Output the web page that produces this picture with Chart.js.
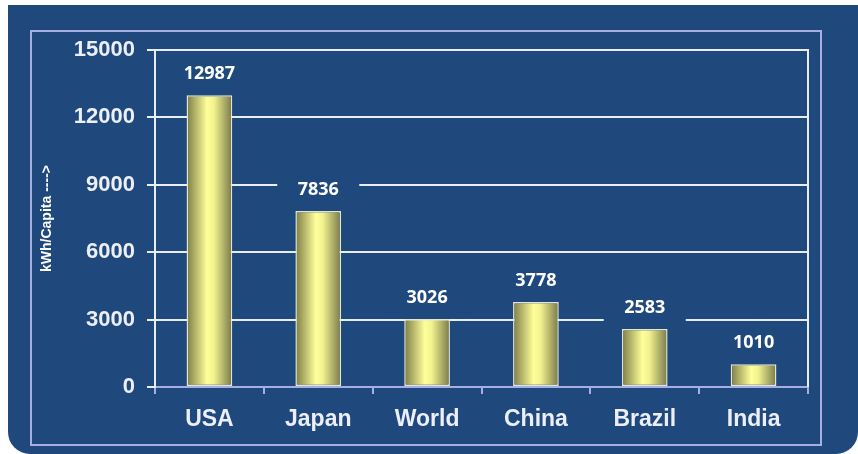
<!DOCTYPE html>
<html>
<head>
<meta charset="utf-8">
<script src="https://cdn.jsdelivr.net/npm/chart.js@4/dist/chart.umd.min.js"></script>
<style>
  html, body { margin: 0; padding: 0; background: #fff; }
  #panel {
    position: absolute; left: 8px; top: 5px; width: 850px; height: 449px;
    background: #1f497d; border-radius: 0 0 22px 22px;
  }
  #frame {
    position: absolute; left: 30px; top: 30px; width: 788px; height: 412px;
    border: 2px solid #a7aee3;
  }
  #wrap { position: absolute; left: 0; top: 0; width: 858px; height: 454px; }
</style>
</head>
<body>
<div id="panel"></div>
<div id="frame"></div>
<div id="wrap"><canvas id="myChart" width="858" height="454"></canvas></div>
<script>
var PANEL = "#1f497d";
var categories = ["USA", "Japan", "World", "China", "Brazil", "India"];
var values = [12987, 7836, 3026, 3778, 2583, 1010];
var yTicks = [0, 3000, 6000, 9000, 12000, 15000];
var BAR_PCT = 0.42;

// olive -> pale yellow -> olive, across each bar
function barFill(c) {
  var chart = c.chart;
  var area = chart.chartArea;
  if (!area || c.type !== "data") return "#f6f690";
  var cx = chart.scales.x.getPixelForValue(c.dataIndex);
  var half = (area.width / categories.length) * BAR_PCT / 2;
  var g = chart.ctx.createLinearGradient(cx - half, 0, cx + half, 0);
  g.addColorStop(0, "#7c7c45");
  g.addColorStop(0.45, "#ffff9a");
  g.addColorStop(0.6, "#f2f28e");
  g.addColorStop(1, "#78784a");
  return g;
}

// white border on the right side of the plot
var rightEdge = {
  id: "rightEdge",
  beforeDatasetsDraw: function (chart) {
    var a = chart.chartArea, ctx = chart.ctx;
    ctx.save();
    ctx.strokeStyle = "#e9edf5";
    ctx.lineWidth = 2;
    ctx.beginPath();
    ctx.moveTo(a.right, a.top - 1);
    ctx.lineTo(a.right, a.bottom);
    ctx.stroke();
    ctx.restore();
  }
};

// value above each bar, on a box of panel colour that hides the grid
var valueLabels = {
  id: "valueLabels",
  afterDatasetsDraw: function (chart) {
    var ctx = chart.ctx;
    var meta = chart.getDatasetMeta(0);
    ctx.save();
    ctx.font = "700 18px 'Open Sans'";
    ctx.textAlign = "center";
    ctx.textBaseline = "middle";
    meta.data.forEach(function (bar, i) {
      var y = bar.y - 21;
      ctx.fillStyle = PANEL;
      ctx.fillRect(bar.x - 41, y - 13, 82, 27);
      ctx.fillStyle = "#ffffff";
      ctx.fillText(String(values[i]), bar.x, y);
    });
    ctx.restore();
  }
};

document.addEventListener("DOMContentLoaded", function () {
  var ctx = document.getElementById("myChart").getContext("2d");

  var data = {
    labels: categories,
    datasets: [
      {
        data: values,
        backgroundColor: barFill,
        borderColor: "#e6e6cf",
        borderWidth: 1.5,
        borderSkipped: false,
        barPercentage: BAR_PCT,
        categoryPercentage: 1,
      },
    ],
  };

  var options = {
    responsive: false,
    animation: false,
    maintainAspectRatio: false,
    layout: { padding: { left: 35, top: 50, right: 50, bottom: 0 } },
    plugins: { legend: { display: false }, tooltip: { enabled: false } },
    scales: {
      x: {
        afterFit: function (s) { s.height = 67; },
        grid: {
          offset: true,
          drawOnChartArea: false,
          tickLength: 7,
          color: "#a7aee3",
          lineWidth: 2,
        },
        border: { color: "#a7aee3", width: 2 },
        ticks: {
          padding: 12,
          color: "#eceef8",
          font: { family: "'Liberation Sans', Arial", size: 23, weight: "bold" },
        },
      },
      y: {
        min: 0,
        max: 15000,
        afterFit: function (s) { s.width = 120; },
        afterBuildTicks: function (s) {
          s.ticks = yTicks.map(function (v) { return { value: v }; });
        },
        grid: { color: "#e9edf5", lineWidth: 2, tickLength: 8 },
        border: { color: "#e9edf5", width: 2 },
        ticks: {
          padding: 12,
          color: "#eceef8",
          font: { family: "'Liberation Sans', Arial", size: 22, weight: "bold" },
          callback: function (v) { return String(v); },
        },
        title: {
          display: true,
          text: "kWh/Capita ---->",
          color: "#ffffff",
          padding: 4,
          font: { family: "'Liberation Sans', Arial", size: 14, weight: "bold" },
        },
      },
    },
  };

  new Chart(ctx, {
    type: "bar",
    data: data,
    options: options,
    plugins: [rightEdge, valueLabels],
  });
});
</script>
</body>
</html>
